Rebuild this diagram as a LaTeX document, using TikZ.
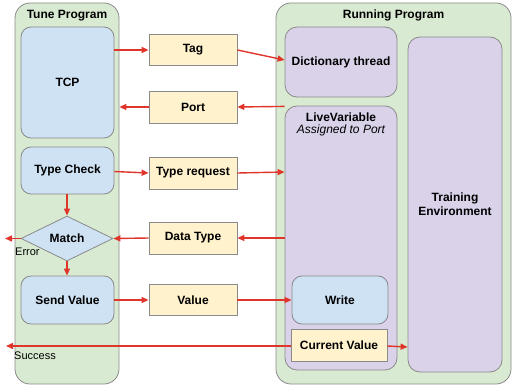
\documentclass[tikz,border=0pt]{standalone}
\usepackage{fontspec}
\setmainfont{Liberation Sans}
\usetikzlibrary{shapes.geometric,arrows.meta}
\definecolor{cgreen}{HTML}{D9EAD3}
\definecolor{cblue}{HTML}{CFE2F3}
\definecolor{cpurple}{HTML}{D9D2E9}
\definecolor{cyellow}{HTML}{FFF2CC}
\definecolor{cborder}{HTML}{8A8A8A}
\definecolor{cred}{HTML}{E0352B}
\tikzset{
  box/.style={draw=cborder, line width=0.8pt, inner sep=0pt, font=\bfseries\fontsize{12}{14}\selectfont, align=center},
  cont/.style={box, fill=cgreen, rounded corners=15pt},
  bluebox/.style={box, fill=cblue, rounded corners=10pt},
  purplebox/.style={box, fill=cpurple, rounded corners=12pt},
  msg/.style={box, fill=cyellow},
  arr/.style={draw=cred, line width=1.4pt, -{Triangle[length=7pt,width=6pt]}},
  lbl/.style={font=\fontsize{11}{13}\selectfont, inner sep=0pt},
  ttl/.style={font=\bfseries\fontsize{12}{14}\selectfont, inner sep=0pt}
}
\begin{document}
\begin{tikzpicture}[x=1pt,y=-1pt]
\useasboundingbox (0,0) rectangle (513,385);
% containers
\node[cont, minimum width=104pt, minimum height=381pt] (tune) at (67,193.5) {};
\node[ttl] (tunet) at (67,15.5) {Tune Program};
\node[cont, minimum width=235pt, minimum height=381pt] (run) at (393.5,193.5) {};
\node[ttl] (runt) at (393.5,15.5) {Running Program};
% tune program nodes
\node[bluebox, minimum width=93pt, minimum height=111pt] (tcp) at (67.5,82.5) {TCP};
\node[bluebox, minimum width=93pt, minimum height=47pt] (tc) at (67.5,170.5) {Type Check};
\node[diamond, draw=cborder, fill=cblue, line width=0.8pt, inner sep=0pt, minimum width=92pt, minimum height=45pt, font=\bfseries\fontsize{12}{14}\selectfont] (match) at (67,238.5) {Match};
\node[bluebox, minimum width=93pt, minimum height=48pt] (send) at (67.5,300) {Send Value};
% messages
\node[msg, minimum width=88pt, minimum height=31pt] (tag) at (193,50) {Tag};
\node[msg, minimum width=88pt, minimum height=32pt] (port) at (193,107) {Port};
\node[msg, minimum width=88pt, minimum height=32pt] (treq) at (193,173) {Type request};
\node[msg, minimum width=88pt, minimum height=32pt] (dtype) at (193,238) {Data Type};
\node[msg, minimum width=88pt, minimum height=31pt] (val) at (193,300) {Value};
% running program nodes
\node[purplebox, minimum width=112pt, minimum height=70pt] (dict) at (341,62) {Dictionary thread};
\node[purplebox, minimum width=112pt, minimum height=264pt] (live) at (341,238) {};
\node[ttl] (livet) at (341,117) {LiveVariable};
\node[inner sep=0pt, font=\itshape\fontsize{12}{14}\selectfont] (livea) at (341,130) {Assigned to Port};
\node[purplebox, minimum width=94pt, minimum height=335pt] (train) at (455,204.5) {Training\\Environment};
\node[bluebox, minimum width=96pt, minimum height=48pt] (write) at (340,300) {Write};
\node[msg, minimum width=96pt, minimum height=32pt] (cur) at (339,345) {Current Value};
% labels
\node[lbl, anchor=west] (err) at (15,252) {Error};
\node[lbl, anchor=west] (succ) at (14,356) {Success};
% free ends
\coordinate (errend) at (5,238.5);
\coordinate (succend) at (6,346);
% arrows
\draw[arr] (tcp.east |- tag.west) -- (tag.west);
\draw[arr] (tag.east) -- ([yshift=2pt]dict.west);
\draw[arr] ([yshift=-9pt]dict.south west) -- (port.east);
\draw[arr] (port.west) -- (port.west -| tune.east);
\draw[arr] ([yshift=-1pt]tc.east) -- (treq.west);
\draw[arr] (treq.east) -- (live.west |- 0,172);
\draw[arr] (live.west |- dtype.east) -- (dtype.east);
\draw[arr] (dtype.west) -- (match.east);
\draw[arr] (match.west) -- (errend);
\draw[arr] (tc.south -| match.north) -- (match.north);
\draw[arr] (match.south) -- (send.north -| match.south);
\draw[arr] (send.east |- val.west) -- (val.west);
\draw[arr] (val.east) -- (write.west |- val.east);
\draw[arr] (cur.west |- succend) -- (succend);
\draw[arr] (cur.east |- succend) -- (train.west |- 0,347);
\end{tikzpicture}
\end{document}
